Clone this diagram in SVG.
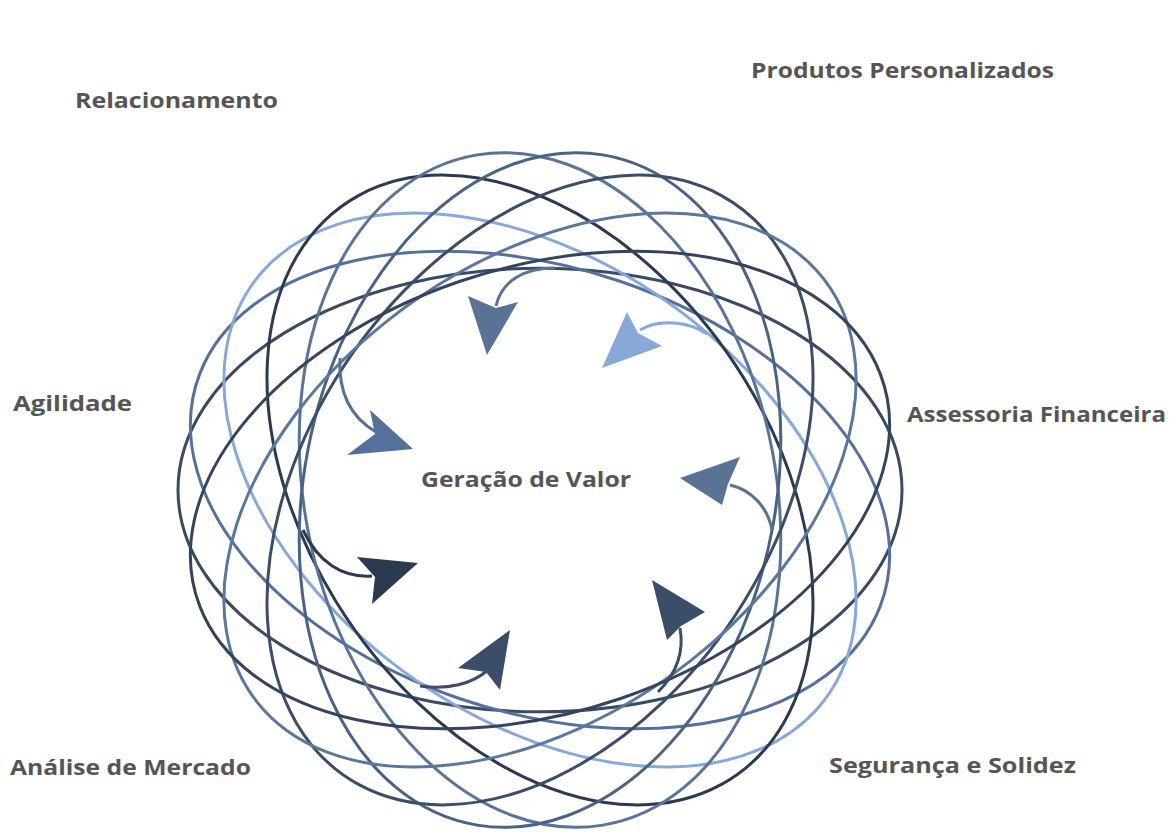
<svg xmlns="http://www.w3.org/2000/svg" width="1171" height="835" viewBox="0 0 1171 835">
<style>
.lbl{font-family:"Open Sans","Liberation Sans",sans-serif;font-weight:700;font-size:22px;fill:#555555}
.el{fill:none;stroke-width:3}
.arr{fill:none;stroke-width:3}
</style>
<rect width="1171" height="835" fill="#ffffff"/>
<g id="rosette" transform="translate(540,490) scale(1,0.94)">
<ellipse class="el" rx="362" ry="236" transform="rotate(0)" stroke="#3a4a63" vector-effect="non-scaling-stroke"/>
<ellipse class="el" rx="362" ry="236" transform="rotate(20)" stroke="#55709a" vector-effect="non-scaling-stroke"/>
<ellipse class="el" rx="362" ry="236" transform="rotate(40)" stroke="#88a8d8" vector-effect="non-scaling-stroke"/>
<ellipse class="el" rx="362" ry="236" transform="rotate(60)" stroke="#2c3a4f" vector-effect="non-scaling-stroke"/>
<ellipse class="el" rx="362" ry="236" transform="rotate(80)" stroke="#5a7499" vector-effect="non-scaling-stroke"/>
<ellipse class="el" rx="362" ry="236" transform="rotate(100)" stroke="#4a6285" vector-effect="non-scaling-stroke"/>
<ellipse class="el" rx="362" ry="236" transform="rotate(120)" stroke="#3c4d68" vector-effect="non-scaling-stroke"/>
<ellipse class="el" rx="362" ry="236" transform="rotate(140)" stroke="#5c779c" vector-effect="non-scaling-stroke"/>
<ellipse class="el" rx="362" ry="236" transform="rotate(160)" stroke="#34445c" vector-effect="non-scaling-stroke"/>
</g>
<g id="connectors">
<path class="arr" stroke="#5a7294" d="M555,268 C525,268 502,280 496,306"/>
<polygon fill="#5a7294" points="468,296 496,308 518,302 487,355"/>
<path class="arr" stroke="#88a8d8" d="M707,334 C690,322 660,318 640,330"/>
<polygon fill="#88a8d8" points="627,312 638,333 662,346 602,368"/>
<path class="arr" stroke="#55709a" d="M340,358 C338,395 352,418 376,432"/>
<polygon fill="#55709a" points="370,410 375,434 347,455 413,449"/>
<path class="arr" stroke="#5a7294" d="M772,530 C768,508 752,490 730,485"/>
<polygon fill="#5a7294" points="740,457 728,484 722,505 680,478"/>
<path class="arr" stroke="#2c3a4f" d="M303,530 C318,562 342,578 372,576"/>
<polygon fill="#2c3a4f" points="357,557 375,577 372,604 418,563"/>
<path class="arr" stroke="#3c4d68" d="M420,686 C448,690 472,684 488,670"/>
<polygon fill="#3c4d68" points="458,668 486,672 500,690 510,630"/>
<path class="arr" stroke="#3c4d68" d="M658,692 C678,672 684,650 680,628"/>
<polygon fill="#3c4d68" points="667,640 681,626 705,612 652,580"/>
</g>
<g id="center"><text class="lbl" x="421" y="487" textLength="210" lengthAdjust="spacingAndGlyphs">Geração de Valor</text></g>
<g id="relacionamento"><text class="lbl" x="75" y="108" textLength="203" lengthAdjust="spacingAndGlyphs">Relacionamento</text></g>
<g id="produtos"><text class="lbl" x="751" y="78" textLength="303" lengthAdjust="spacingAndGlyphs">Produtos Personalizados</text></g>
<g id="agilidade"><text class="lbl" x="13" y="411" textLength="119" lengthAdjust="spacingAndGlyphs">Agilidade</text></g>
<g id="assessoria"><text class="lbl" x="907" y="422" textLength="259" lengthAdjust="spacingAndGlyphs">Assessoria Financeira</text></g>
<g id="analise"><text class="lbl" x="10" y="775" textLength="241" lengthAdjust="spacingAndGlyphs">Análise de Mercado</text></g>
<g id="seguranca"><text class="lbl" x="829" y="773" textLength="247" lengthAdjust="spacingAndGlyphs">Segurança e Solidez</text></g>
</svg>
